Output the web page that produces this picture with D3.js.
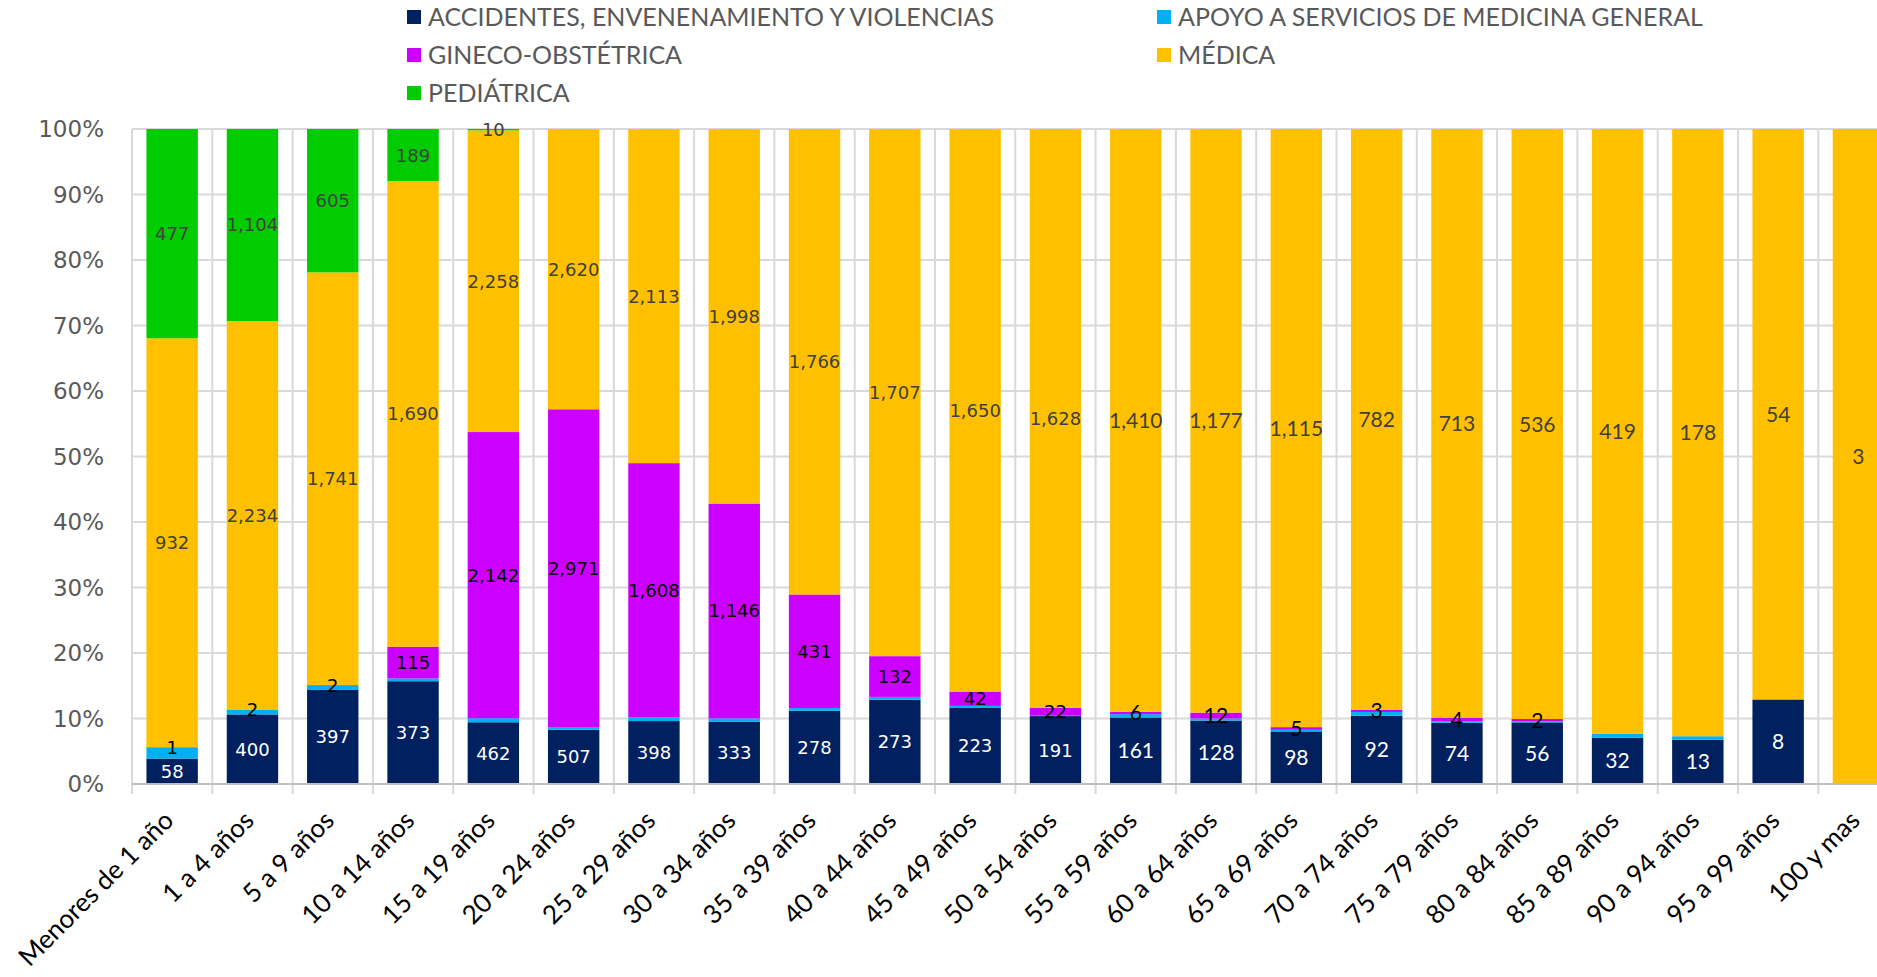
<!DOCTYPE html>
<html>
<head>
<meta charset="utf-8">
<script src="https://cdn.jsdelivr.net/npm/d3@7"></script>
<style>
  html, body { margin: 0; padding: 0; background: #fff; overflow: hidden; }
  svg { display: block; }
</style>
</head>
<body>
<svg id="chart" width="1877" height="977"></svg>
<script>
const categories = ['Menores de 1 año', '1 a 4 años', '5 a 9 años', '10 a 14 años', '15 a 19 años',
    '20 a 24 años', '25 a 29 años', '30 a 34 años', '35 a 39 años', '40 a 44 años', '45 a 49 años',
    '50 a 54 años', '55 a 59 años', '60 a 64 años', '65 a 69 años', '70 a 74 años', '75 a 79 años',
    '80 a 84 años', '85 a 89 años', '90 a 94 años', '95 a 99 años', '100 y mas'];

const accidentes = [58, 400, 397, 373, 462, 507, 398, 333, 278, 273, 223, 191, 161, 128, 98, 92, 74, 56, 32, 13, 8, 0];
const apoyo      = [25, 26, 19, 10, 30, 25, 23, 17, 10, 9, 6, 1, 8, 4, 3, 5, 2, 1, 3, 1, 0, 0];
const gineco     = [1, 2, 2, 115, 2142, 2971, 1608, 1146, 431, 132, 42, 22, 6, 12, 5, 3, 4, 2, 0, 0, 0, 0];
const medica     = [932, 2234, 1741, 1690, 2258, 2620, 2113, 1998, 1766, 1707, 1650, 1628, 1410, 1177, 1115, 782, 713, 536, 419, 178, 54, 3];
const pediatrica = [477, 1104, 605, 189, 10, 0, 0, 0, 0, 0, 0, 0, 0, 0, 0, 0, 0, 0, 0, 0, 0, 0];

const seriesNames = ['ACCIDENTES, ENVENENAMIENTO Y VIOLENCIAS', 'APOYO A SERVICIOS DE MEDICINA GENERAL',
    'GINECO-OBSTÉTRICA', 'MÉDICA', 'PEDIÁTRICA'];
const yTicks = [0, 0.1, 0.2, 0.3, 0.4, 0.5, 0.6, 0.7, 0.8, 0.9, 1];

// build rows for d3.stack
const keys = ['acc', 'apo', 'gin', 'med', 'ped'];
const rows = categories.map((c, i) => {
    const total = accidentes[i] + apoyo[i] + gineco[i] + medica[i] + pediatrica[i];
    return {
        cat: c, idx: i, total,
        acc: accidentes[i] / total, apo: apoyo[i] / total, gin: gineco[i] / total,
        med: medica[i] / total, ped: pediatrica[i] / total,
        raw: { acc: accidentes[i], apo: apoyo[i], gin: gineco[i], med: medica[i], ped: pediatrica[i] }
    };
});

const colors = { acc: '#002060', apo: '#00b0f0', gin: '#cc00ff', med: '#ffc000', ped: '#00cc00' };
const labelColors = { acc: '#ffffff', apo: '#404040', gin: '#000000', med: '#404040', ped: '#404040' };
const showLabel = { acc: true, apo: false, gin: true, med: true, ped: true };

const svg = d3.select('#chart');
const plotLeft = 132, plotTop = 129, plotBottom = 784;
const step = 80.3;
const plotRight = plotLeft + step * categories.length;

const x = d3.scaleBand()
    .domain(categories)
    .range([plotLeft, plotRight])
    .paddingInner(0.36)
    .paddingOuter(0.18);

const y = d3.scaleLinear().domain([0, 1]).range([plotBottom, plotTop]);

// gridlines
svg.append('g')
    .selectAll('line')
    .data(yTicks)
    .join('line')
    .attr('x1', plotLeft).attr('x2', plotRight)
    .attr('y1', d => y(d)).attr('y2', d => y(d))
    .attr('stroke', '#d9d9d9').attr('stroke-width', 2);

const bounds = d3.range(categories.length + 1).map(i => plotLeft + i * step);
svg.append('g')
    .selectAll('line')
    .data(bounds)
    .join('line')
    .attr('x1', d => d).attr('x2', d => d)
    .attr('y1', plotTop).attr('y2', plotBottom + 10)
    .attr('stroke', '#d9d9d9').attr('stroke-width', 2);

// bars
const stacked = d3.stack().keys(keys)(rows);
const layer = svg.append('g')
    .selectAll('g')
    .data(stacked)
    .join('g')
    .attr('fill', d => colors[d.key]);

layer.selectAll('rect')
    .data(d => d)
    .join('rect')
    .attr('x', d => x(d.data.cat))
    .attr('width', x.bandwidth())
    .attr('y', d => y(d[1]))
    .attr('height', d => y(d[0]) - y(d[1]));

// x axis baseline
svg.append('line')
    .attr('x1', plotLeft).attr('x2', plotRight)
    .attr('y1', plotBottom).attr('y2', plotBottom)
    .attr('stroke', '#bfbfbf').attr('stroke-width', 2);

// data labels
const fmt = d3.format(',');
const labels = [];
stacked.forEach(s => {
    s.forEach(d => {
        const v = d.data.raw[s.key];
        if (!showLabel[s.key] || v === 0) return;
        labels.push({ key: s.key, v, cat: d.data.cat, idx: d.data.idx, mid: (d[0] + d[1]) / 2 });
    });
});

svg.append('g')
    .selectAll('text')
    .data(labels)
    .join('text')
    .attr('x', d => x(d.cat) + x.bandwidth() / 2)
    .attr('y', d => y(d.mid))
    .attr('dy', '0.36em')
    .attr('text-anchor', 'middle')
    .attr('fill', d => labelColors[d.key])
    .style('font-family', d => d.idx < 12 ? 'DejaVu Sans' : 'Lato')
    .style('font-size', d => d.idx < 12 ? '18px' : '21px')
    .text(d => fmt(d.v));

// y axis labels
svg.append('g')
    .selectAll('text')
    .data(yTicks)
    .join('text')
    .attr('x', 104)
    .attr('y', d => y(d))
    .attr('dy', '0.36em')
    .attr('text-anchor', 'end')
    .attr('fill', '#595959')
    .style('font-family', 'DejaVu Sans')
    .style('font-size', '23px')
    .text(d3.format('.0%'));

// category labels
svg.append('g')
    .selectAll('text')
    .data(categories)
    .join('text')
    .attr('transform', d => `translate(${x(d) + x.bandwidth() / 2 + 3},${plotBottom + 38}) rotate(-45)`)
    .attr('text-anchor', 'end')
    .attr('fill', '#000')
    .style('font-family', 'Lato')
    .style('font-size', '26px')
    .text(d => d);

// legend
const legendPos = [[407, 17], [1157, 17], [407, 55], [1157, 55], [407, 93]];
const legend = svg.append('g')
    .selectAll('g')
    .data(keys)
    .join('g')
    .attr('transform', (d, i) => `translate(${legendPos[i][0]},${legendPos[i][1]})`);

legend.append('rect')
    .attr('x', 0).attr('y', -7)
    .attr('width', 14).attr('height', 14)
    .attr('fill', d => colors[d]);

legend.append('text')
    .attr('x', 21)
    .attr('dy', '0.36em')
    .attr('fill', '#595959')
    .style('font-family', 'Lato')
    .style('font-size', '25px')
    .text((d, i) => seriesNames[i]);
</script>
</body>
</html>
